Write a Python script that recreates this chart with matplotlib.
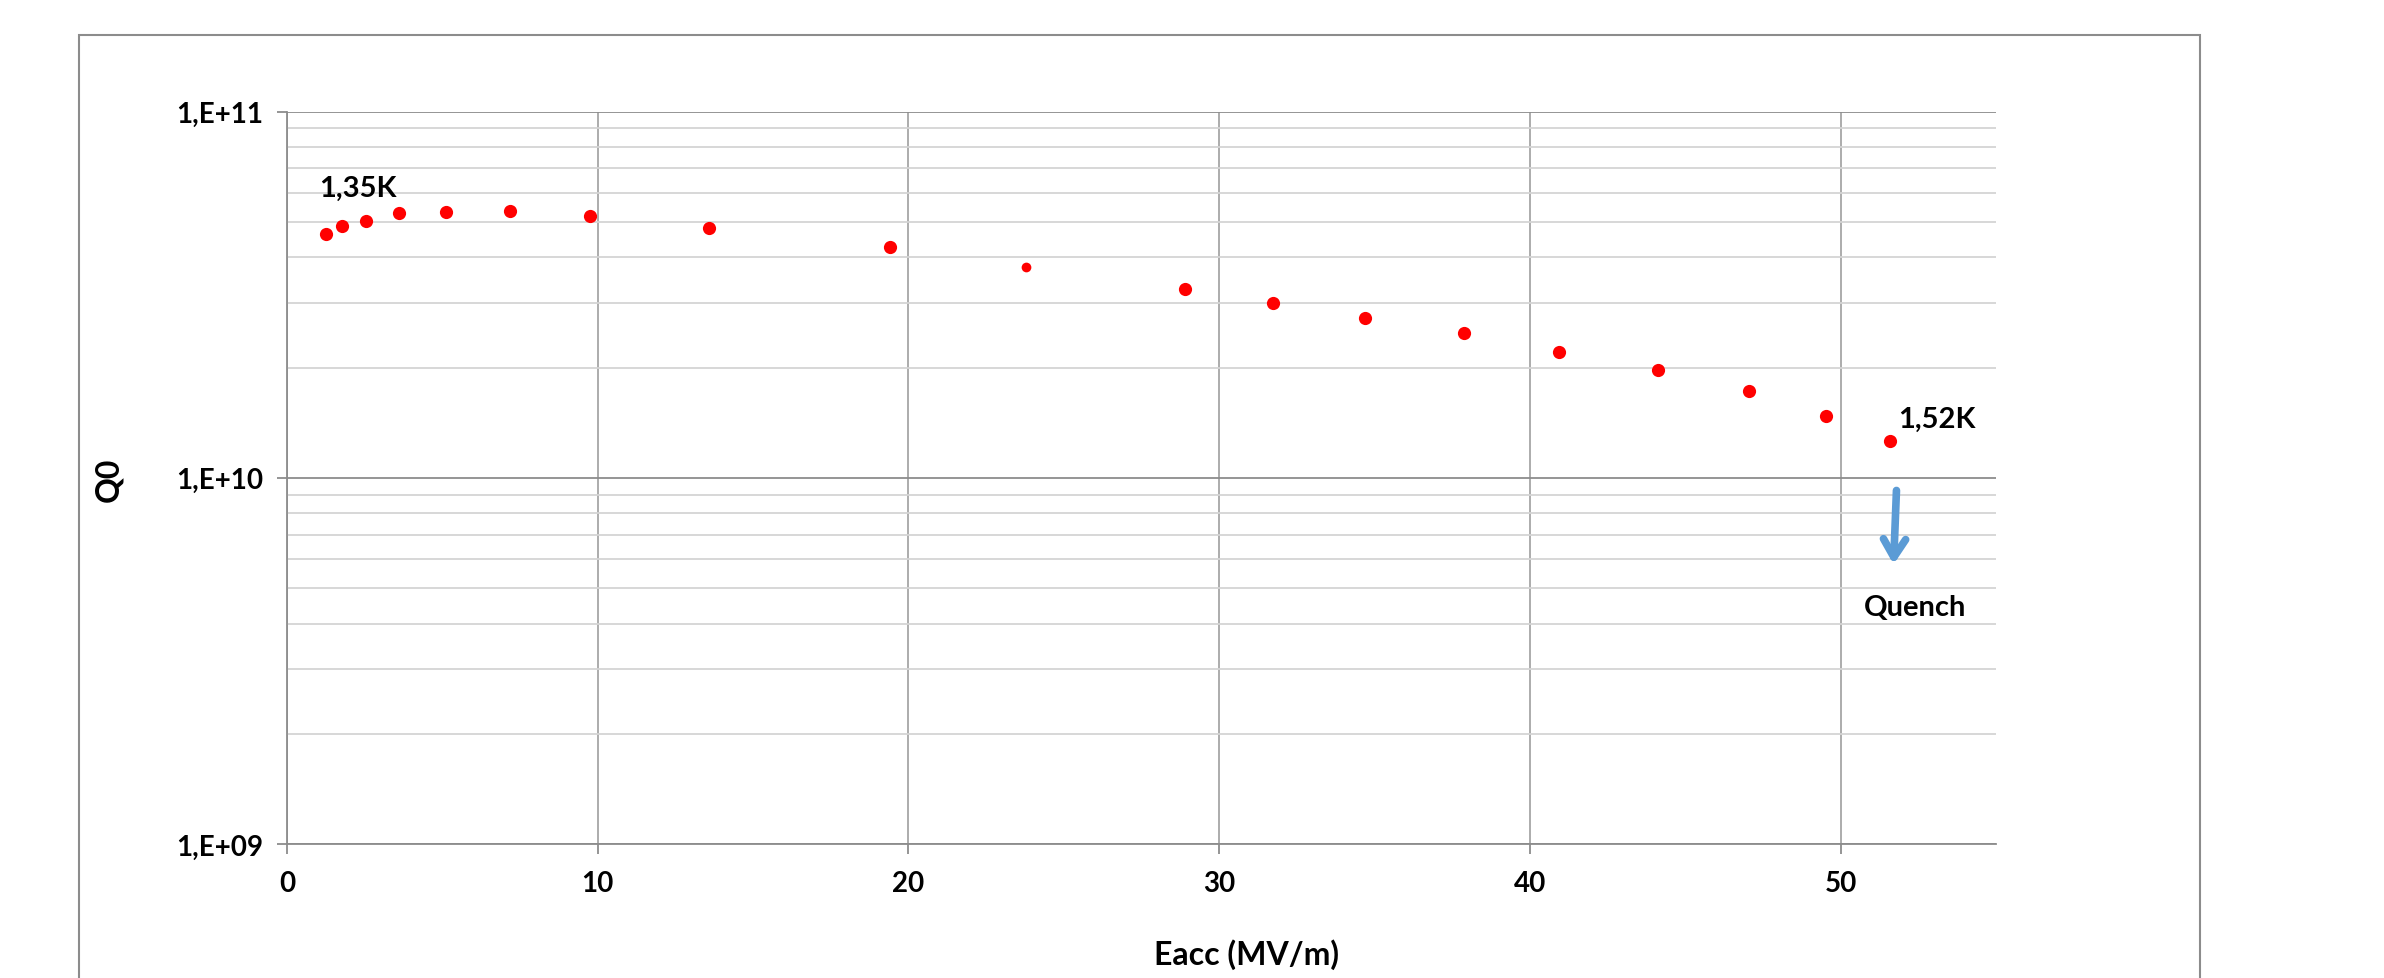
import matplotlib
matplotlib.use("Agg")
import matplotlib.pyplot as plt
from matplotlib.patches import Rectangle
from matplotlib.ticker import FixedLocator, LogLocator, NullFormatter

plt.rcParams['font.family'] = ['Lato', 'DejaVu Sans']
plt.rcParams['font.weight'] = 'bold'

# Eacc (MV/m) and Q0
eacc = [1.24, 1.78, 2.55, 3.60, 5.13, 7.19, 9.74, 13.58, 19.41, 23.78,
        28.91, 31.74, 34.68, 37.87, 40.93, 44.12, 47.04, 49.52, 51.59]
q0 = [4.62e10, 4.86e10, 5.02e10, 5.29e10, 5.32e10, 5.35e10, 5.18e10, 4.82e10, 4.27e10, 3.77e10,
      3.28e10, 3.01e10, 2.73e10, 2.49e10, 2.21e10, 1.97e10, 1.73e10, 1.48e10, 1.26e10]
small_pt = 9  # index of the one smaller dot

xticks = [0, 10, 20, 30, 40, 50]
yticks = [1e9, 1e10, 1e11]
ylabels = ['1,E+09', '1,E+10', '1,E+11']

W, H = 2384, 979
fig = plt.figure(figsize=(W / 100, H / 100), dpi=100)

# outer chart frame (bottom edge runs off the canvas)
fig.patches.append(Rectangle((79 / W, -0.05), (2200 - 79) / W, 1.05 - 36 / H,
                             transform=fig.transFigure, fill=False,
                             edgecolor='#8c8c8c', linewidth=1.5))

ax = fig.add_axes([287 / W, 1 - 845 / H, (1996 - 287) / W, (845 - 112.7) / H])
ax.set_yscale('log')
ax.set_xlim(0, 55)
ax.set_ylim(1e9, 1e11)

sizes = [9.5 if i != small_pt else 7 for i in range(len(eacc))]
for x, y, s in zip(eacc, q0, sizes):
    ax.plot(x, y, 'o', color='#ff0000', markersize=s, markeredgewidth=0, zorder=3)

ax.xaxis.set_major_locator(FixedLocator(xticks))
ax.yaxis.set_major_locator(FixedLocator(yticks))
ax.set_yticklabels(ylabels)
ax.yaxis.set_minor_locator(LogLocator(base=10, subs=range(2, 10)))
ax.yaxis.set_minor_formatter(NullFormatter())

ax.grid(True, which='major', axis='x', color='#a6a6a6', linewidth=1.3)
ax.grid(True, which='major', axis='y', color='#8c8c8c', linewidth=1.3)
ax.grid(True, which='minor', axis='y', color='#d4d4d4', linewidth=1.3)

for side in ['top', 'right']:
    ax.spines[side].set_visible(False)
for side in ['left', 'bottom']:
    ax.spines[side].set_color('#8c8c8c')
    ax.spines[side].set_linewidth(1.3)

ax.tick_params(axis='both', which='major', length=7, width=1.3, color='#8c8c8c',
               labelsize=20, direction='out')
ax.tick_params(axis='x', pad=12)
ax.tick_params(axis='y', pad=10)
ax.tick_params(axis='y', which='minor', length=0)
for lab in ax.get_xticklabels() + ax.get_yticklabels():
    lab.set_fontweight('bold')

fig.text(109 / W, 1 - 480 / H, 'Q0', rotation=90, ha='center', va='center',
         fontsize=23, fontweight='bold')
fig.text(1246 / W, 1 - 955 / H, 'Eacc (MV/m)', ha='center', va='center',
         fontsize=23, fontweight='bold')

ax.text(1.05, 6.2e10, '1,35K', fontsize=21, fontweight='bold', ha='left', va='center')
ax.text(51.85, 1.45e10, '1,52K', fontsize=21, fontweight='bold', ha='left', va='center')
ax.text(52.4, 4.45e9, 'Quench', fontsize=21, fontweight='bold', ha='center', va='center')

ax.annotate('', xy=(51.7, 5.7e9), xytext=(51.8, 9.4e9),
            arrowprops=dict(arrowstyle='->,head_length=1.3,head_width=0.8',
                            color='#5b9bd5', linewidth=5.5))

fig.savefig('out.png', dpi=100)
